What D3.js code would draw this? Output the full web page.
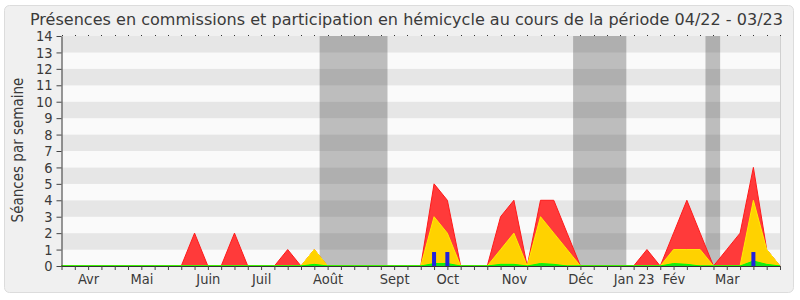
<!DOCTYPE html>
<html>
<head>
<meta charset="utf-8">
<script src="https://cdn.jsdelivr.net/npm/d3@7"></script>
<style>
  body { margin: 0; background: #fff; }
  svg text { font-family: "DejaVu Sans Condensed", "DejaVu Sans", sans-serif; fill: #3a3a3a; }
</style>
</head>
<body>
<div id="chart"></div>
<script>
// one value per week, 04/22 -> 03/23
const presences    = [0,0,0,0,0,0,0,0,0,0,2,0,0,2,0,0,0,1,0,1,0,0,0,0,0,0,0,0,5,4,0,0,0,3,4,0,4,4,2,0,0,0,0,0,1,0,2,4,2,0,1,2,6,1,0];
const participations = [0,0,0,0,0,0,0,0,0,0,0,0,0,0,0,0,0,0,0,1,0,0,0,0,0,0,0,0,3,2,0,0,0,1,2,0,3,2,1,0,0,0,0,0,0,0,1,1,1,0,0,0,4,1,0];
const interventions = [0,0,0,0,0,0,0,0,0,0,0,0,0,0,0,0,0,0,0,0.1,0,0,0,0,0,0,0,0,0.15,0.15,0,0,0,0.1,0.1,0,0.15,0.1,0,0,0,0,0,0,0,0,0.15,0.1,0,0,0,0,0.3,0.1,0];
const questions    = [0,0,0,0,0,0,0,0,0,0,0,0,0,0,0,0,0,0,0,0,0,0,0,0,0,0,0,0,0.85,0.85,0,0,0,0,0,0,0,0,0,0,0,0,0,0,0,0,0,0,0,0,0,0,0.85,0,0];

const monthLabels = ["Avr","Mai","Juin","Juil","Août","Sept","Oct","Nov","Déc","Jan 23","Fév","Mar"];
const monthWeeks  = [2,6,11,15,20,25,29,34,39,43,46,50];
const vacances    = [[19.4,24.5],[38.45,42.45],[48.4,49.5]];
const yTicks      = d3.range(0, 15);

const width = 800, height = 300;

const svg = d3.select("#chart").append("svg")
              .attr("width", width)
              .attr("height", height);

// frame
svg.append("rect")
    .attr("x", 4.5).attr("y", 5.5)
    .attr("width", 789).attr("height", 287)
    .attr("rx", 5)
    .attr("fill", "#f0f0f0")
    .attr("stroke", "#dcdcdc");

const x = d3.scaleLinear().domain([0, presences.length - 1]).range([61.5, 780]);
const y = d3.scaleLinear().domain([0, 14]).range([266, 36]);

// horizontal bands
svg.selectAll(".band")
    .data(d3.range(0, 14))
    .enter().append("rect")
    .attr("class", "band")
    .attr("x", x(0))
    .attr("y", d => y(d + 1))
    .attr("width", x.range()[1] - x(0))
    .attr("height", d => y(d) - y(d + 1))
    .attr("fill", d => d % 2 ? "#e6e6e6" : "#fafafa");

// vacation periods
svg.selectAll(".vac")
    .data(vacances)
    .enter().append("rect")
    .attr("x", d => x(d[0]))
    .attr("y", y(14))
    .attr("width", d => x(d[1]) - x(d[0]))
    .attr("height", y(0) - y(14))
    .attr("fill", "rgba(50,50,50,0.3)");

svg.append("line")
    .attr("x1", 780.5).attr("x2", 780.5)
    .attr("y1", y(14)).attr("y2", y(0))
    .attr("stroke", "#d0d0d0");

const area = d3.area()
               .x((d, i) => x(i))
               .y0(y(0))
               .y1(d => y(d));

svg.append("path")
    .datum(presences)
    .attr("d", area)
    .attr("fill", "#ff3a3a")
    .attr("stroke", "#ff1a1a")
    .attr("stroke-width", 1);

svg.append("path")
    .datum(participations)
    .attr("d", area)
    .attr("fill", "#ffd200")
    .attr("stroke", "#ffee00")
    .attr("stroke-width", 1);

svg.append("path")
    .datum(interventions)
    .attr("d", area)
    .attr("fill", "#22dd22")
    .attr("stroke", "#00ff00")
    .attr("stroke-width", 1);

svg.selectAll(".q")
    .data(questions.map((v, i) => [i, v]).filter(d => d[1] > 0))
    .enter().append("rect")
    .attr("x", d => x(d[0]) - 2)
    .attr("y", d => y(d[1]))
    .attr("width", 4)
    .attr("height", d => y(0) - y(d[1]))
    .attr("fill", "#2222dd");

// x axis: weekly ticks
const xAxis = svg.append("g")
    .attr("transform", `translate(0,${y(0)})`)
    .call(d3.axisBottom(x).tickValues(d3.range(presences.length)).tickFormat("").tickSize(4).tickSizeOuter(0));
xAxis.select(".domain").attr("stroke", "#333");
xAxis.selectAll(".tick line").attr("stroke", "#444");

// small dots on top edge
svg.selectAll(".topdot")
    .data(d3.range(presences.length))
    .enter().append("rect")
    .attr("x", d => Math.round(x(d)))
    .attr("y", 35)
    .attr("width", 1).attr("height", 1)
    .attr("fill", "#333");

// month labels
const xLab = svg.append("g")
    .attr("transform", `translate(0,${y(0)})`)
    .call(d3.axisBottom(x).tickValues(monthWeeks).tickFormat((d, i) => monthLabels[i]).tickSize(0));
xLab.select(".domain").remove();
xLab.selectAll("text")
    .attr("dy", null)
    .attr("y", 17.5)
    .attr("font-size", "14.5px")
    .attr("font-family", "'DejaVu Sans Condensed', sans-serif")
    .attr("fill", "#3a3a3a");

// y axis
const yAxis = svg.append("g")
    .attr("transform", `translate(${x(0)},0)`)
    .call(d3.axisLeft(y).tickValues(yTicks).tickSize(5).tickSizeOuter(0));
yAxis.select(".domain").attr("stroke", "#333");
yAxis.selectAll(".tick line").attr("stroke", "#444");
yAxis.selectAll("text")
    .attr("x", -9)
    .attr("font-size", "14.5px")
    .attr("font-family", "'DejaVu Sans Condensed', sans-serif")
    .attr("fill", "#3a3a3a");

svg.append("text")
    .attr("transform", "translate(23,150) rotate(-90)")
    .attr("text-anchor", "middle")
    .attr("font-size", "15px")
    .text("Séances par semaine");

svg.append("text")
    .attr("x", 30)
    .attr("y", 25)
    .attr("font-size", "16.5px")
    .attr("textLength", 753)
    .attr("lengthAdjust", "spacingAndGlyphs")
    .text("Présences en commissions et participation en hémicycle au cours de la période 04/22 - 03/23");
</script>
</body>
</html>
